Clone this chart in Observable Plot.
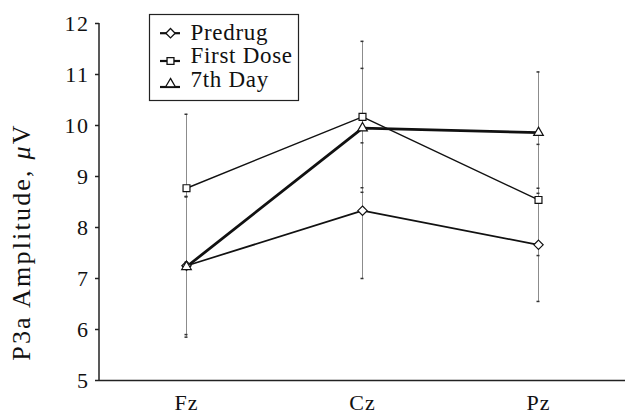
<!DOCTYPE html>
<html>
<head>
<meta charset="utf-8">
<script src="https://cdn.jsdelivr.net/npm/d3@7"></script>
<script src="https://cdn.jsdelivr.net/npm/@observablehq/plot@0.6"></script>
<style>
  html, body { margin: 0; padding: 0; background: #fff; }
  #chart { position: relative; width: 625px; height: 414px; }
  .ls15 text { letter-spacing: 1.5px; }
  .ls1 text { letter-spacing: 1px; }
</style>
</head>
<body>
<div id="chart"></div>
<script>
const sites = ["Fz", "Cz", "Pz"];
const seriesNames = ["Predrug", "First Dose", "7th Day"];
const predrugMean = [7.25, 8.33, 7.66];
const predrugSD = [1.35, 1.33, 1.11];
const firstDoseMean = [8.77, 10.17, 8.54];
const firstDoseSD = [1.45, 1.48, 1.09];
const day7Mean = [7.23, 9.95, 9.86];
const day7SD = [1.38, 1.17, 1.19];
const yTicks = [5, 6, 7, 8, 9, 10, 11, 12];

const seriesStyle = {
  "Predrug": {symbol: "diamond2", r: 4.2, width: 1.7},
  "First Dose": {symbol: "square2", r: 4.4, width: 1.4},
  "7th Day": {symbol: "triangle2", r: 4.6, width: 2.8}
};

const means = [predrugMean, firstDoseMean, day7Mean];
const sds = [predrugSD, firstDoseSD, day7SD];
const rows = [];
seriesNames.forEach((name, k) => {
  sites.forEach((site, i) => rows.push({series: name, site, mean: means[k][i], sd: sds[k][i]}));
});

const FONT = "'Liberation Serif', 'Times New Roman', serif";

const lineMarks = seriesNames.map(name =>
  Plot.line(rows.filter(d => d.series === name), {
    x: "site", y: "mean", stroke: "#111", strokeWidth: seriesStyle[name].width
  })
);
const dotMarks = seriesNames.map(name =>
  Plot.dot(rows.filter(d => d.series === name), {
    x: "site", y: "mean", symbol: () => seriesStyle[name].symbol, r: seriesStyle[name].r,
    fill: "white", stroke: "#111", strokeWidth: 1.2
  })
);

const plot = Plot.plot({
  width: 625,
  height: 414,
  marginLeft: 99,
  marginRight: 0,
  marginTop: 23,
  marginBottom: 34,
  style: {fontFamily: FONT, background: "white", color: "#111"},
  symbol: {type: "identity"},
  x: {type: "point", domain: sites, padding: 0.494, axis: null},
  y: {domain: [5, 12], axis: null},
  marks: [
    Plot.ruleX(rows, {x: "site", y1: d => d.mean - d.sd, y2: d => d.mean + d.sd, stroke: "#8c8c8c", strokeWidth: 1}),
    Plot.ruleY(rows, {x1: "site", x2: "site", y: d => d.mean + d.sd, insetLeft: -1.5, insetRight: -1.5, stroke: "#333", strokeWidth: 1.5}),
    Plot.ruleY(rows, {x1: "site", x2: "site", y: d => d.mean - d.sd, insetLeft: -1.5, insetRight: -1.5, stroke: "#333", strokeWidth: 1.5}),
    ...lineMarks,
    ...dotMarks,
    Plot.ruleY([5], {stroke: "#222", strokeWidth: 1.5}),
    Plot.axisY({ticks: yTicks, tickFormat: d3.format("d"), tickSize: 4, tickPadding: 6, fontSize: 22, label: null, stroke: "#222", strokeWidth: 1.5, className: "ls15"}),
    Plot.axisX({tickSize: 0, tickPadding: 14, fontSize: 22, label: null, className: "ls1"})
  ]
});

document.getElementById("chart").appendChild(plot);

const svg = d3.select(plot);
const ys = plot.scale("y");
// y axis line
svg.append("line")
  .attr("x1", 99).attr("x2", 99)
  .attr("y1", ys.apply(12)).attr("y2", ys.apply(5))
  .attr("stroke", "#222").attr("stroke-width", 1.5);

// y axis title
const title = svg.append("text")
  .attr("transform", `translate(29.5,242) rotate(-90)`)
  .attr("text-anchor", "middle")
  .attr("font-family", FONT)
  .attr("font-size", 26)
  .style("letter-spacing", "2.2px")
  .attr("fill", "#111");
title.append("tspan").text("P3a Amplitude, ");
title.append("tspan").attr("font-style", "italic").text("μ");
title.append("tspan").text("V");

// legend
const lg = svg.append("g").attr("transform", "translate(149,14)");
lg.append("rect").attr("x", 0.5).attr("y", 0.5).attr("width", 149).attr("height", 86)
  .attr("fill", "white").attr("stroke", "#222").attr("stroke-width", 1.2);
const legendRows = [
  {name: seriesNames[0], my: 19.2, ty: 25.5},
  {name: seriesNames[1], my: 47, ty: 49},
  {name: seriesNames[2], my: 73, ty: 73.2}
];
const symFor = {
  "diamond2": d3.symbolDiamond2, "square2": d3.symbolSquare2, "triangle2": d3.symbolTriangle2
};
legendRows.forEach(r => {
  const st = seriesStyle[r.name];
  lg.append("line").attr("x1", 11).attr("x2", 31).attr("y1", r.my).attr("y2", r.my)
    .attr("stroke", "#111").attr("stroke-width", 2.2);
  lg.append("path")
    .attr("d", d3.symbol(symFor[st.symbol], Math.PI * st.r * st.r)())
    .attr("transform", `translate(21.5,${r.my - (st.symbol === "triangle2" ? 3 : 0)})`)
    .attr("fill", "white").attr("stroke", "#111").attr("stroke-width", 1.3);
  lg.append("text").attr("x", 41.5).attr("y", r.ty)
    .attr("text-anchor", "start")
    .attr("font-family", FONT).attr("font-size", 23).attr("fill", "#111")
    .style("letter-spacing", "0.7px")
    .text(r.name);
});
</script>
</body>
</html>
